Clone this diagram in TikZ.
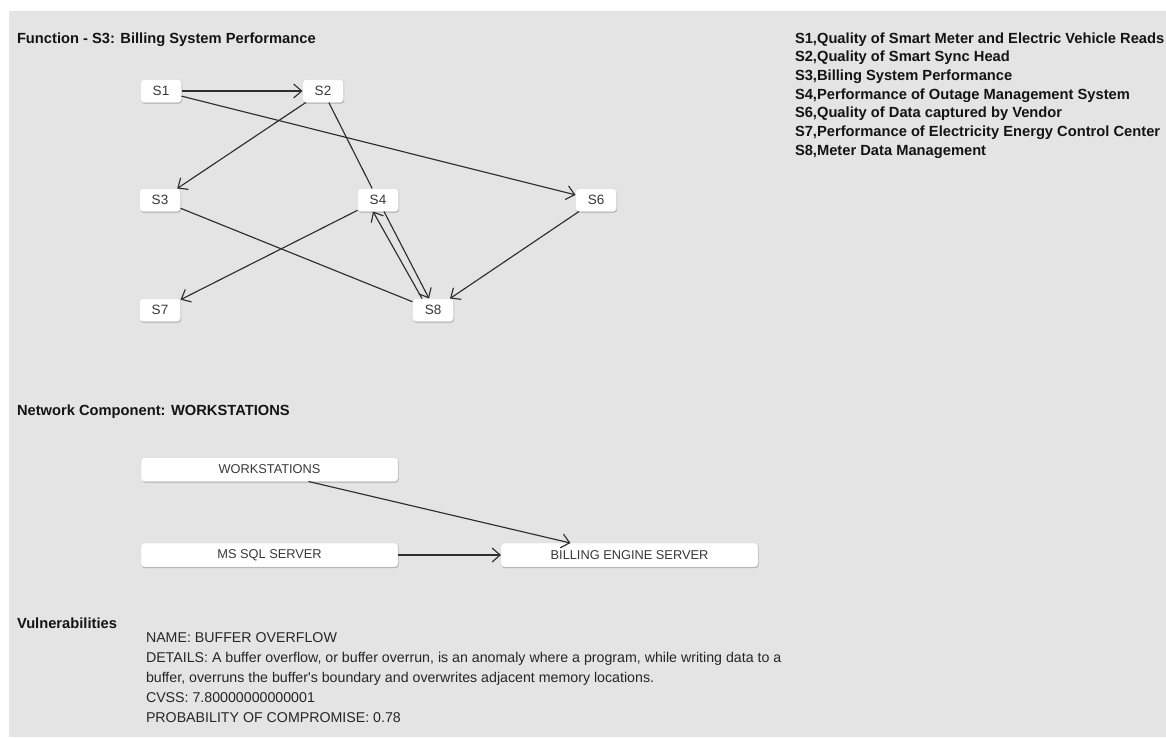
\documentclass[tikz,border=0pt]{standalone}
\usepackage{fontspec}
\setmainfont{Liberation Sans}
\usetikzlibrary{arrows.meta,shadows}
\definecolor{pagegray}{HTML}{E4E4E4}
\definecolor{inkgray}{HTML}{2E2E2E}
\begin{document}
\begin{tikzpicture}[x=1pt,y=-1pt,
  every node/.style={inner sep=0pt, outer sep=0pt},
  heading/.style={font=\fontsize{14.7}{17}\selectfont\bfseries, text=black!92, anchor=base west},
  body/.style={font=\fontsize{14.2}{16}\selectfont, text=black!85, anchor=base west},
  sbox/.style={draw=black!18, fill=white, rounded corners=3pt,
    minimum width=41pt, minimum height=23pt,
    font=\fontsize{13.5}{15}\selectfont, text=black!78,
    drop shadow={shadow xshift=0.6pt, shadow yshift=-1pt, opacity=0.25, fill=black}},
  wbox/.style={sbox, minimum width=257pt, minimum height=24pt,
    font=\fontsize{12.8}{15}\selectfont},
  link/.style={draw=inkgray, line width=1.15pt},
  arr/.style={link, -{Straight Barb[length=8pt,width=14pt]}},
]
\useasboundingbox (0,0) rectangle (1166,737);
\fill[white] (0,0) rectangle (1166,737);
\fill[pagegray] (9,11) rectangle (1166,737);

% headings
\node[heading] (title) at (17,43) {Function - S3: Billing System Performance};
\node[heading] (nethead) at (17,415) {Network Component: WORKSTATIONS};
\node[heading] (vulhead) at (17,628) {Vulnerabilities};

% legend of the function nodes
\foreach \t [count=\i from 0] in {
  {S1,Quality of Smart Meter and Electric Vehicle Reads},
  {S2,Quality of Smart Sync Head},
  {S3,Billing System Performance},
  {S4,Performance of Outage Management System},
  {S6,Quality of Data captured by Vendor},
  {S7,Performance of Electricity Energy Control Center},
  {S8,Meter Data Management}}
  \node[heading] (leg\i) at (795,43+18.7*\i) {\t};

% function graph
\node[sbox] (S1) at (161,91) {S1};
\node[sbox] (S2) at (323,91) {S2};
\node[sbox] (S3) at (160,200) {S3};
\node[sbox] (S4) at (378,200) {S4};
\node[sbox] (S6) at (596,200) {S6};
\node[sbox] (S7) at (160,310) {S7};
\node[sbox] (S8) at (433,310) {S8};

\draw[arr] (S1) -- (S2);
\draw[arr] (S1) -- (S6);
\draw[arr] (S2) -- (S3);
\draw[link] (S2) -- (S4);
\draw[link] (S3) -- (S8);
\draw[arr] (S4) -- (S7);
\draw[arr] ([xshift=6pt]S4.south) -- ([xshift=-4pt]S8.north);
\draw[arr] ([xshift=-11pt]S8.north) -- ([xshift=-5pt]S4.south);
\draw[arr] (S6) -- (S8);

% network components
\node[wbox] (WS) at (269.5,469.5) {WORKSTATIONS};
\node[wbox] (MS) at (269.5,555) {MS SQL SERVER};
\node[wbox] (BE) at (629.5,555) {BILLING ENGINE SERVER};

\draw[arr] ([xshift=39pt]WS.south) -- ([xshift=-59pt]BE.north);
\draw[arr] (MS) -- (BE);

% vulnerability details
\node[body] (v1) at (146,642) {NAME: BUFFER OVERFLOW};
\node[body] (v2) at (146,662) {DETAILS: A buffer overflow, or buffer overrun, is an anomaly where a program, while writing data to a};
\node[body] (v3) at (146,682) {buffer, overruns the buffer\textquotesingle s boundary and overwrites adjacent memory locations.};
\node[body] (v4) at (146,702) {CVSS: 7.80000000000001};
\node[body] (v5) at (146,722) {PROBABILITY OF COMPROMISE: 0.78};
\end{tikzpicture}
\end{document}
